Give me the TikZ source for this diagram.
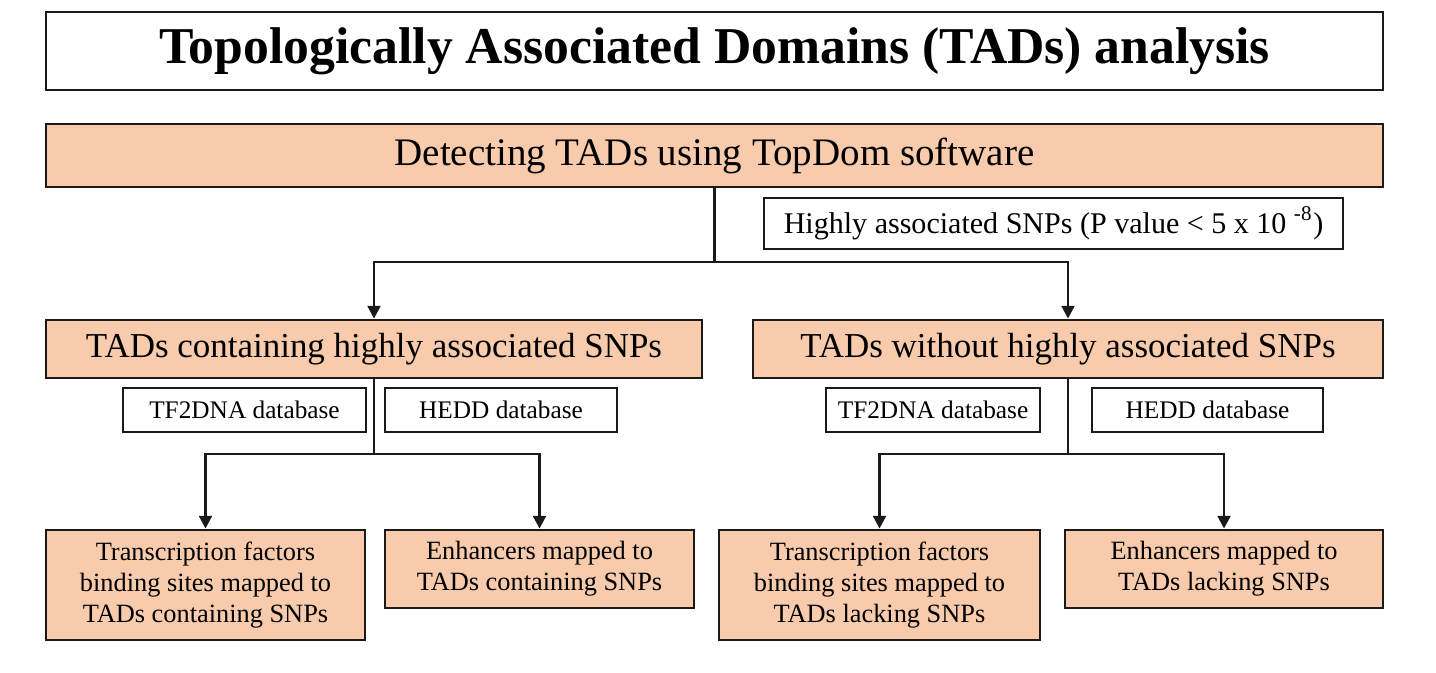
\documentclass[tikz,border=0pt]{standalone}
\usepackage{fontspec}
\setmainfont{Liberation Serif}
\usetikzlibrary{arrows.meta,positioning,calc}
\definecolor{TADPeach}{HTML}{F8CBAD}
\definecolor{TADLine}{HTML}{1A1A1A}
\tikzset{
    % Plain title frame
    titlebox/.style={
        rectangle,
        draw=TADLine,
        line width=0.8pt,
        fill=white,
        minimum width=13.37cm,
        minimum height=0.78cm,
        align=center,
        font=\fontsize{14.7}{17}\selectfont\bfseries
    },
    % Peach process boxes
    stepbox/.style={
        rectangle,
        draw=TADLine,
        line width=0.8pt,
        fill=TADPeach,
        inner sep=1pt,
        align=center,
        font=\fontsize{9.95}{12}\selectfont
    },
    resultbox/.style={
        stepbox,
        font=\fontsize{7.5}{8.8}\selectfont
    },
    % White database labels
    dbbox/.style={
        rectangle,
        draw=TADLine,
        line width=0.8pt,
        fill=white,
        minimum height=0.44cm,
        inner sep=1pt,
        align=center,
        font=\fontsize{7.2}{8.5}\selectfont
    },
    arrow/.style={
        -{Triangle[length=3.6pt,width=3.6pt]},
        line width=0.8pt,
        color=TADLine
    },
    link/.style={
        line width=0.8pt,
        color=TADLine
    }
}

\begin{document}
\begin{tikzpicture}
        \useasboundingbox (0,0) rectangle (14.36,6.72);

        % Header
        \node[titlebox] (title) at (7.145,6.21) {Topologically Associated Domains (TADs) analysis};
        \node[stepbox, minimum width=13.37cm, minimum height=0.63cm, font=\fontsize{11.1}{13}\selectfont] (detect) at (7.145,5.165)
              {Detecting TADs using TopDom software};
        \node[dbbox, minimum width=5.79cm, minimum height=0.51cm, font=\fontsize{8.55}{10}\selectfont] (snps) at (10.535,4.485)
              {Highly associated SNPs (P value < 5 x 10 \textsuperscript{-8})};

        % TAD groups
        \node[stepbox, minimum width=6.56cm, minimum height=0.58cm] (tadL) at (3.74,3.23)
              {TADs containing highly associated SNPs};
        \node[stepbox, minimum width=6.30cm, minimum height=0.58cm] (tadR) at (10.68,3.23)
              {TADs without highly associated SNPs};

        % Databases
        \node[dbbox, minimum width=2.43cm] (tfdbL) at (2.445,2.62) {TF2DNA database};
        \node[dbbox, minimum width=2.32cm] (hedL) at (5.01,2.62) {HEDD database};
        \node[dbbox, minimum width=2.14cm] (tfdbR) at (9.33,2.62) {TF2DNA database};
        \node[dbbox, minimum width=2.31cm] (hedR) at (12.075,2.62) {HEDD database};

        % Results
        \node[resultbox, minimum width=3.19cm, minimum height=1.10cm] (tfL) at (2.055,0.87)
              {Transcription factors\\binding sites mapped to\\TADs containing SNPs};
        \node[resultbox, minimum width=3.09cm, minimum height=0.78cm] (enhL) at (5.395,1.03)
              {Enhancers mapped to\\TADs containing SNPs};
        \node[resultbox, minimum width=3.21cm, minimum height=1.10cm] (tfR) at (8.795,0.87)
              {Transcription factors\\binding sites mapped to\\TADs lacking SNPs};
        \node[resultbox, minimum width=3.18cm, minimum height=0.78cm] (enhR) at (12.24,1.03)
              {Enhancers mapped to\\TADs lacking SNPs};

        % Branch points
        \coordinate (splitTop) at (detect.south |- 0,4.10);
        \coordinate (splitL) at (tadL.south |- 0,2.18);
        \coordinate (splitR) at (tadR.south |- 0,2.18);

        % Connectors
        \draw[link] (detect.south) -- (splitTop);
        \draw[arrow] (splitTop) -| (tadL.north);
        \draw[arrow] (splitTop) -| (tadR.north);
        \draw[link] (tadL.south) -- (splitL);
        \draw[arrow] (splitL) -| (tfL.north);
        \draw[arrow] (splitL) -| (enhL.north);
        \draw[link] (tadR.south) -- (splitR);
        \draw[arrow] (splitR) -| (tfR.north);
        \draw[arrow] (splitR) -| (enhR.north);
    \end{tikzpicture}
\end{document}
